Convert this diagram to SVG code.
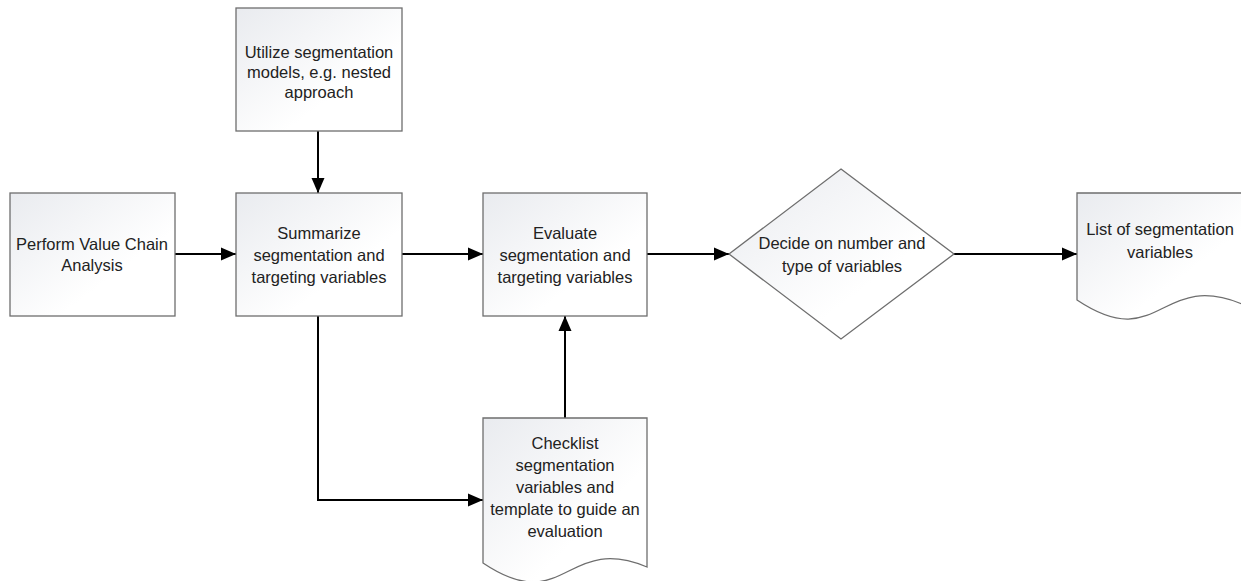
<svg xmlns="http://www.w3.org/2000/svg" width="1241" height="581" viewBox="0 0 1241 581">
<style>
.shape{fill:url(#g);stroke:#6e6e6e;stroke-width:1.3}
.t{font-family:"Liberation Sans",Arial,sans-serif;font-size:16.5px;fill:#222;text-anchor:middle}
.c{fill:none;stroke:#000;stroke-width:2}
</style>
<defs>
<linearGradient id="g" x1="0" y1="0" x2="1" y2="1">
<stop offset="0" stop-color="#e9ebef"/>
<stop offset="0.65" stop-color="#ffffff"/>
</linearGradient>
<marker id="a" viewBox="0 0 15 14" refX="15" refY="7" markerWidth="15" markerHeight="14" markerUnits="userSpaceOnUse" orient="auto">
<path d="M0,0.5 L15,7 L0,13.5 Z" fill="#000"/>
</marker>
</defs>
<rect width="1241" height="581" fill="#fff"/>
<g id="connectors">
<path class="c" d="M175,254 H236" marker-end="url(#a)"/>
<path class="c" d="M318,131 V193" marker-end="url(#a)"/>
<path class="c" d="M402,254 H483" marker-end="url(#a)"/>
<path class="c" d="M647,254 H729" marker-end="url(#a)"/>
<path class="c" d="M954,254 H1077" marker-end="url(#a)"/>
<path class="c" d="M318,316 V500 H483" marker-end="url(#a)"/>
<path class="c" d="M565,418 V316" marker-end="url(#a)"/>
</g>
<g id="perform">
<rect class="shape" x="10" y="193" width="165" height="123"/>
<text class="t" x="92" y="250">Perform Value Chain</text>
<text class="t" x="92" y="271">Analysis</text>
</g>
<g id="utilize">
<rect class="shape" x="236" y="8" width="166" height="123"/>
<text class="t" x="319" y="58">Utilize segmentation</text>
<text class="t" x="319" y="78">models, e.g. nested</text>
<text class="t" x="319" y="98">approach</text>
</g>
<g id="summarize">
<rect class="shape" x="236" y="193" width="166" height="123"/>
<text class="t" x="319" y="239">Summarize</text>
<text class="t" x="319" y="261">segmentation and</text>
<text class="t" x="319" y="283">targeting variables</text>
</g>
<g id="evaluate">
<rect class="shape" x="483" y="193" width="164" height="123"/>
<text class="t" x="565" y="239">Evaluate</text>
<text class="t" x="565" y="261">segmentation and</text>
<text class="t" x="565" y="283">targeting variables</text>
</g>
<g id="decide">
<path class="shape" d="M841,169 L954,254 L841,339 L729,254 Z"/>
<text class="t" x="842" y="249">Decide on number and</text>
<text class="t" x="842" y="272">type of variables</text>
</g>
<g id="list">
<path class="shape" d="M1077,193 H1242 V304 C1159.5,270 1159.5,355 1077,300 Z"/>
<text class="t" x="1160" y="235">List of segmentation</text>
<text class="t" x="1160" y="258">variables</text>
</g>
<g id="checklist">
<path class="shape" d="M483,418 H647 V567 C565,533 565,618 483,563 Z"/>
<text class="t" x="565" y="449">Checklist</text>
<text class="t" x="565" y="471">segmentation</text>
<text class="t" x="565" y="493">variables and</text>
<text class="t" x="565" y="515">template to guide an</text>
<text class="t" x="565" y="537">evaluation</text>
</g>
</svg>
